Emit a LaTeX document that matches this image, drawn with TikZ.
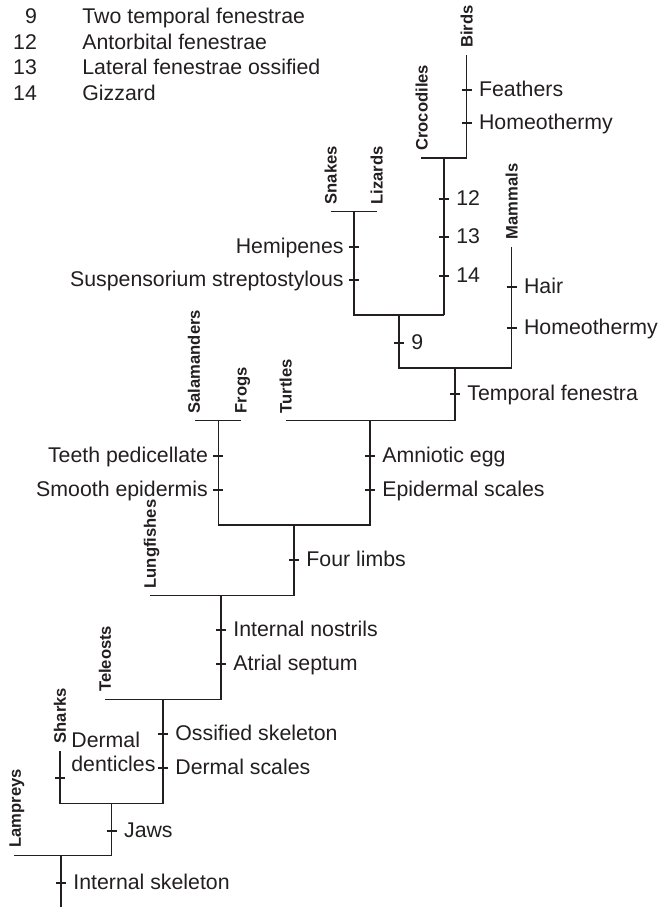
\documentclass[tikz,border=0pt]{standalone}
\usepackage{fontspec}
\setmainfont{Liberation Sans}
\definecolor{ink}{RGB}{35,31,32}

% a synapomorphy: tick on a branch with its label to the right / left
\newcommand{\synR}[4]{%
  \coordinate (#1) at (#2,#3);
  \draw[tickmark] (#1) +(-5,0) -- +(5,0);
  \node[charR] (#1-l) at (#1) {#4};}
\newcommand{\synL}[4]{%
  \coordinate (#1) at (#2,#3);
  \draw[tickmark] (#1) +(-5,0) -- +(5,0);
  \node[charL] (#1-l) at (#1) {#4};}

\begin{document}
\begin{tikzpicture}[x=0.5pt,y=-0.5pt,
  branch/.style={draw=ink, line width=0.7pt, line join=miter},
  tickmark/.style={draw=ink, line width=1.05pt},
  taxon/.style={rotate=90, anchor=west, inner sep=0pt, text=ink,
    font=\fontsize{8.3}{9}\selectfont\bfseries,
    text height=5.9pt, text depth=0pt},
  charbase/.style={inner sep=0pt, text=ink,
    font=\fontsize{10.65}{12.15}\selectfont,
    text height=7.6pt, text depth=0pt, yshift=0.6pt},
  charR/.style={charbase, anchor=west, xshift=6pt},
  charL/.style={charbase, anchor=east, xshift=-5pt},
  legnum/.style={charbase, anchor=east},
  legtxt/.style={charbase, anchor=west},
]
\fill[white] (0,0) rectangle (660,907);
\useasboundingbox (0,0) rectangle (660,907);

% ---- legend ----
\node[legnum] (l9n)  at (37.3,16.7) {9};
\node[legtxt] (l9t)  at (82,16.7)   {Two temporal fenestrae};
\node[legnum] (l12n) at (37.3,42.7) {12};
\node[legtxt] (l12t) at (82,42.7)   {Antorbital fenestrae};
\node[legnum] (l13n) at (37.3,68.3) {13};
\node[legtxt] (l13t) at (82,68.3)   {Lateral fenestrae ossified};
\node[legnum] (l14n) at (37.3,94.3) {14};
\node[legtxt] (l14t) at (82,94.3)   {Gizzard};

% ---- branch points ----
\coordinate (birdsT) at (466.7,55);
\coordinate (birdsB) at (466.7,158);
\coordinate (croc)   at (421,158);
\coordinate (arch)   at (444,158);
\coordinate (archB)  at (444,315);
\coordinate (snk)    at (330.7,211.7);
\coordinate (liz)    at (376.7,211.7);
\coordinate (sq)     at (354,211.7);
\coordinate (sqB)    at (354,315);
\coordinate (diap)   at (399,315);
\coordinate (diapB)  at (399,368);
\coordinate (mamT)   at (511.7,246.7);
\coordinate (mamB)   at (511.7,368);
\coordinate (syn)    at (455,368);
\coordinate (synB)   at (455,420.7);
\coordinate (tur)    at (285.7,420.7);
\coordinate (amn)    at (370,420.7);
\coordinate (amnB)   at (370,525);
\coordinate (sal)    at (195,420.7);
\coordinate (frog)   at (240.7,420.7);
\coordinate (amph)   at (218.3,420.7);
\coordinate (amphB)  at (218.3,525);
\coordinate (tet)    at (294,525);
\coordinate (tetB)   at (294,595.7);
\coordinate (lung)   at (150,595.7);
\coordinate (sarc)   at (221,595.7);
\coordinate (sarcB)  at (221,699.3);
\coordinate (tel)    at (105,699.3);
\coordinate (oste)   at (163,699.3);
\coordinate (osteB)  at (163,803.3);
\coordinate (shkT)   at (60,750.7);
\coordinate (shkB)   at (60,803.3);
\coordinate (gnath)  at (111.7,803.3);
\coordinate (gnathB) at (111.7,855.7);
\coordinate (lam)    at (14,855.7);
\coordinate (root)   at (61,855.7);
\coordinate (rootB)  at (61,907);

% ---- branches ----
\draw[branch] (birdsT) -- (birdsB) -- (croc);
\draw[branch] (arch) -- (archB);
\draw[branch] (snk) -- (liz);
\draw[branch] (sq) -- (sqB) -- (archB);
\draw[branch] (diap) -- (diapB) -- (mamB) -- (mamT);
\draw[branch] (syn) -- (synB) -- (tur);
\draw[branch] (sal) -- (frog);
\draw[branch] (amn) -- (amnB) -- (amphB) -- (amph);
\draw[branch] (tet) -- (tetB) -- (lung);
\draw[branch] (sarc) -- (sarcB) -- (tel);
\draw[branch] (oste) -- (osteB) -- (shkB) -- (shkT);
\draw[branch] (gnath) -- (gnathB) -- (lam);
\draw[branch] (root) -- (rootB);

% ---- taxa ----
\node[taxon] (tBirds)  at (466.7,48)    {Birds};
\node[taxon] (tCroc)   at (421.7,151)   {Crocodiles};
\node[taxon] (tSnakes) at (330.7,204.7) {Snakes};
\node[taxon] (tLiz)    at (376.7,204.7) {Lizards};
\node[taxon] (tMam)    at (511.7,239.7) {Mammals};
\node[taxon] (tSal)    at (194,413.7)   {Salamanders};
\node[taxon] (tFrog)   at (240.7,413.7) {Frogs};
\node[taxon] (tTur)    at (285.7,413.7) {Turtles};
\node[taxon] (tLung)   at (150,588.7)   {Lungfishes};
\node[taxon] (tTel)    at (105,692.3)   {Teleosts};
\node[taxon] (tShk)    at (60,743.7)    {Sharks};
\node[taxon] (tLam)    at (15,848)      {Lampreys};

% ---- characters ----
\synR{feath}{466.7}{90}{Feathers}
\synR{homB}{466.7}{123}{Homeothermy}
\synR{c12}{444}{199}{12}
\synR{c13}{444}{237.3}{13}
\synR{c14}{444}{275.7}{14}
\synL{hemi}{354}{246.7}{Hemipenes}
\synL{susp}{354}{280}{Suspensorium streptostylous}
\synR{c9}{399}{342.7}{9}
\synR{hair}{511.7}{286.7}{Hair}
\synR{homM}{511.7}{328.3}{Homeothermy}
\synR{tfen}{455}{394}{Temporal fenestra}
\synL{teeth}{218.3}{456}{Teeth pedicellate}
\synL{smooth}{218.3}{490}{Smooth epidermis}
\synR{egg}{370}{456}{Amniotic egg}
\synR{escale}{370}{490}{Epidermal scales}
\synR{limbs}{294}{560}{Four limbs}
\synR{nost}{221}{630}{Internal nostrils}
\synR{atri}{221}{664}{Atrial septum}
\synR{ossk}{163}{734.3}{Ossified skeleton}
\synR{dscale}{163}{768.3}{Dermal scales}
\coordinate (dent) at (60,778.3);
\draw[tickmark] (dent) +(-5,0) -- +(5,0);
\node[inner sep=0pt, text=ink, font=\fontsize{10.65}{12.15}\selectfont,
      align=left, anchor=base west] (dent-l) at (71,771.7) {Dermal\\denticles};
\synR{jaws}{111.7}{830.7}{Jaws}
\synR{intsk}{61}{882.7}{Internal skeleton}
\end{tikzpicture}
\end{document}
